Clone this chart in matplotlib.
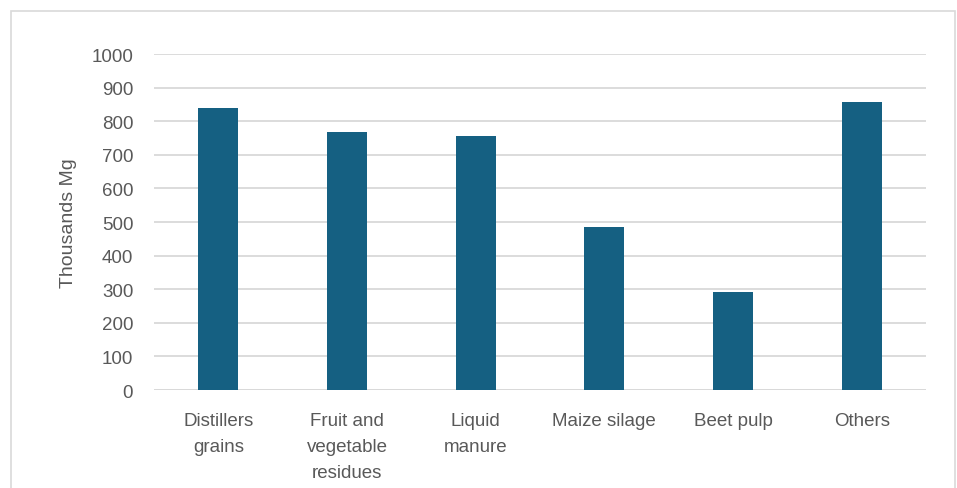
import matplotlib.pyplot as plt
from matplotlib.patches import Rectangle

# Feedstock quantities (thousands Mg)
categories = ['Distillers\ngrains', 'Fruit and\nvegetable\nresidues', 'Liquid\nmanure',
              'Maize silage', 'Beet pulp', 'Others']
values = [840, 769, 757, 484, 291, 858]
yticks = [0, 100, 200, 300, 400, 500, 600, 700, 800, 900, 1000]

plt.rcParams['font.family'] = ['Liberation Sans', 'DejaVu Sans']

fig = plt.figure(figsize=(9.57, 4.89), dpi=100)
ax = fig.add_axes([0.161, 0.2004, 0.8066, 0.6871])

ax.bar(range(len(categories)), values, width=0.31, color='#156082', zorder=3)

ax.set_xlim(-0.5, len(categories) - 0.5)
ax.set_ylim(0, 1000)
ax.set_yticks(yticks)
ax.set_xticks(range(len(categories)))
ax.set_xticklabels(categories, linespacing=1.7, va='top')

ax.grid(axis='y', color='#d9d9d9', linewidth=1.3, zorder=0)
for s in ax.spines.values():
    s.set_visible(False)
ax.axhline(0, color='#d9d9d9', linewidth=1.3, zorder=1)

ax.tick_params(axis='both', length=0, labelsize=13.5, labelcolor='#595959')
ax.tick_params(axis='y', pad=15)
ax.tick_params(axis='x', pad=16)
ax.set_ylabel('Thousands Mg', fontsize=14, color='#595959', labelpad=10)

# light frame around the chart area
fig.patches.append(Rectangle((11 / 957, -0.05), 944 / 957, 1 - 12 / 489 + 0.05,
                             transform=fig.transFigure, fill=False,
                             edgecolor='#d9d9d9', linewidth=1.2))

fig.savefig('out.png', dpi=100)
